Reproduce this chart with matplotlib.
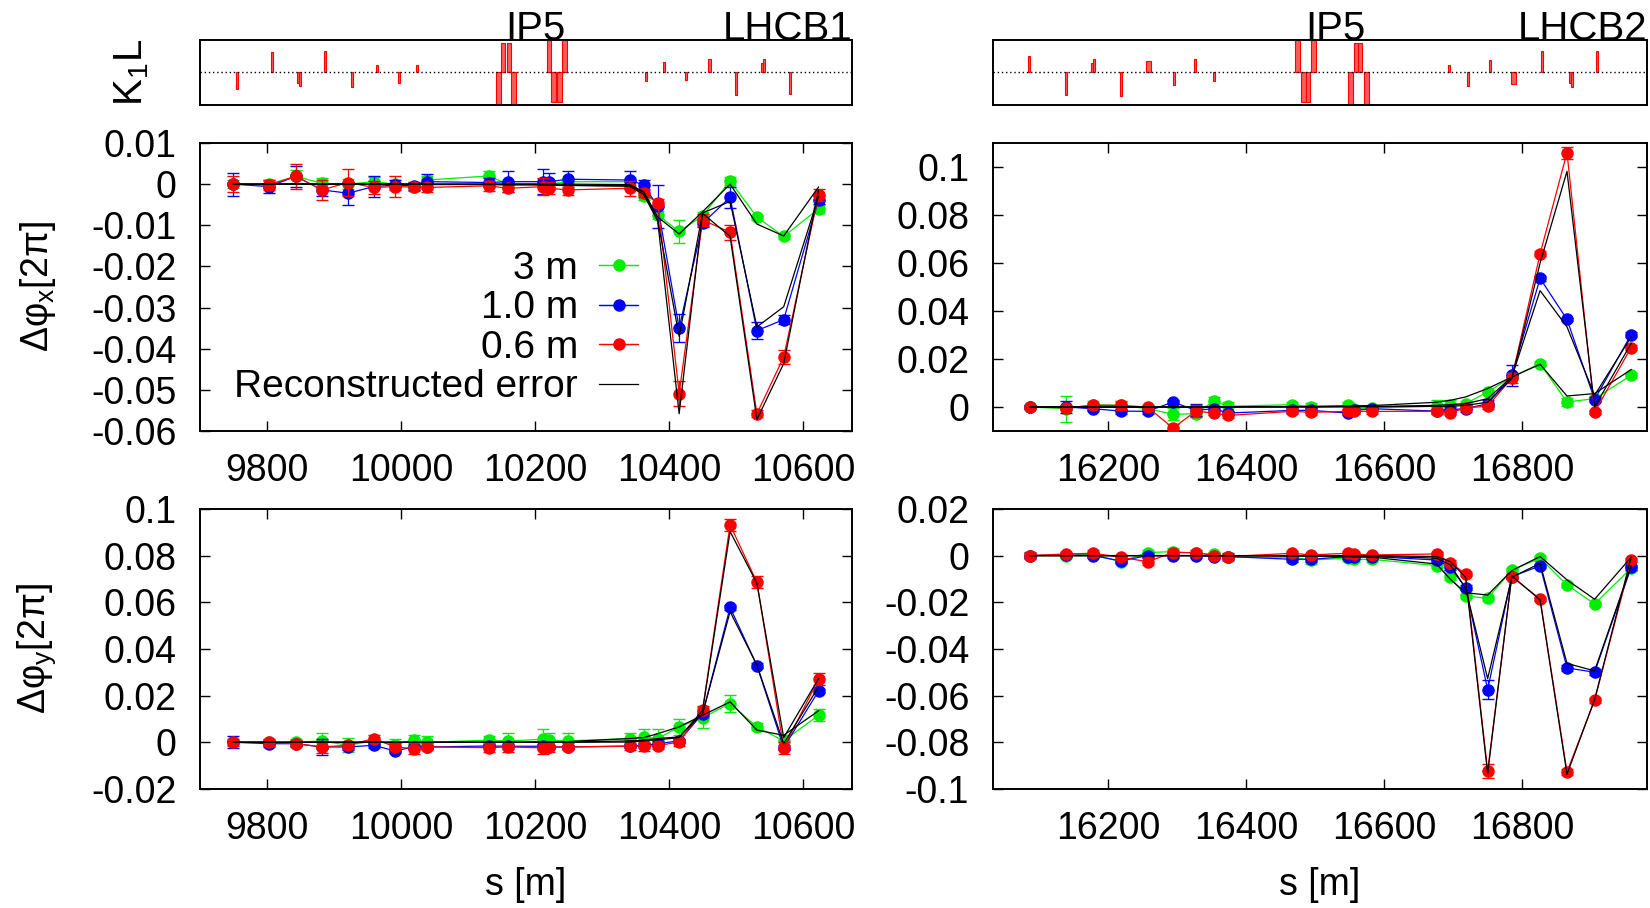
# Phase advance beating around IP5, LHC beam 1 / beam 2

import numpy as np
import matplotlib
matplotlib.use('Agg')
import matplotlib.pyplot as plt
from matplotlib.ticker import FuncFormatter, MultipleLocator

plt.rcParams['font.family'] = ['Liberation Sans', 'DejaVu Sans']
plt.rcParams['mathtext.fontset'] = 'custom'
plt.rcParams['mathtext.rm'] = 'Liberation Sans'
plt.rcParams['mathtext.it'] = 'Liberation Sans'
plt.rcParams['mathtext.default'] = 'regular'

# BPM positions [m]
s_b1 = [9750, 9803, 9843, 9882, 9921, 9959, 9991, 10019, 10039, 10131, 10159, 10212,
        10221, 10249, 10341, 10362, 10383, 10415, 10450, 10491, 10531, 10571, 10623]
s_b2 = [16086, 16139, 16178, 16218, 16257, 16294, 16327, 16353, 16374, 16467, 16494, 16547,
        16556, 16583, 16676, 16696, 16718, 16750, 16785, 16826, 16865, 16905, 16958]

# quadrupole strengths (normalised), positions and lengths
k1_s_b1 = [9755, 9807, 9846, 9849, 9887, 9927, 9964, 9997, 10024, 10145, 10152, 10161, 10168,
           10221, 10228, 10236, 10244, 10365, 10392, 10425, 10460, 10500, 10538, 10542, 10580]
k1_b1 = [-0.52, 0.63, -0.31, -0.42, 0.67, -0.45, 0.22, -0.33, 0.24, -1.3, 0.9, 0.9, -1.3,
         1.3, -0.9, -0.9, 1.3, -0.26, 0.31, -0.23, 0.4, -0.68, 0.28, 0.4, -0.65]
k1_len_b1 = [3, 3, 3, 3, 3, 4, 3, 3, 3, 7, 6, 6, 7, 7, 7, 7, 7, 3, 3, 3, 4, 3, 3, 3, 3]

k1_s_b2 = [16085, 16139, 16176, 16180, 16218, 16259, 16295, 16326, 16354, 16474, 16483, 16489,
           16498, 16551, 16559, 16565, 16574, 16694, 16721, 16753, 16788, 16829, 16869, 16872, 16909]
k1_b2 = [0.51, -0.7, 0.28, 0.4, -0.71, 0.35, -0.39, 0.4, -0.26, 1.3, -0.91, -0.91,
         1.3, -1.3, 0.9, 0.9, -1.3, 0.22, -0.41, 0.38, -0.34, 0.67, -0.31, -0.44, 0.67]
k1_len_b2 = [3, 3, 3, 3, 3, 7, 3, 3, 3, 7, 6, 6, 7, 7, 6, 6, 7, 3, 3, 3, 7, 3, 3, 3, 3]

ip5_b1 = 10200
ip5_b2 = 16530

# horizontal phase error, beam 1 [2pi]
b1x_3m = [0, 0, 0.0019, 0.0002, 0, 0.0006, 0, -0.0006, 0.001, 0.002, 0, 0.0002, 0, 0.0006,
          0.0006, -0.003, -0.0075, -0.0115, -0.0077, 0.0008, -0.008, -0.0127, -0.006]
b1x_1m = [0, -0.0006, 0.0019, -0.0014, -0.0022, -0.0006, -0.0002, -0.0004, 0.0006, 0.0004, 0.0006,
          0.0006, 0.0006, 0.0012, 0.001, -0.0002, -0.0054, -0.035, -0.0095, -0.0032, -0.0356, -0.0329, -0.0038]
b1x_06m = [0, -0.0002, 0.0019, -0.0014, 0.0004, -0.0008, -0.0006, -0.0007, -0.0008, -0.0004, -0.001,
           -0.0006, -0.001, -0.0014, -0.001, -0.0022, -0.0046, -0.0509, -0.0087, -0.0117, -0.0558, -0.042, -0.0026]
b1x_3m_err = [0.001, 0.0008, 0.0015, 0.0012, 0.0012, 0.0012, 0.001, 0.0008, 0.001, 0.0012, 0.001, 0.001,
              0.0008, 0.0008, 0.0008, 0.0008, 0.001, 0.0028, 0.001, 0.001, 0.0006, 0.0006, 0.001]
b1x_1m_err = [0.0028, 0.0015, 0.0025, 0.0015, 0.0028, 0.0025, 0.0012, 0.001, 0.0018, 0.001, 0.0025, 0.003,
              0.002, 0.002, 0.0022, 0.0012, 0.0052, 0.0034, 0.001, 0.0025, 0.002, 0.0012, 0.001]
b1x_06m_err = [0.002, 0.0012, 0.003, 0.0025, 0.0032, 0.0015, 0.0025, 0.001, 0.0012, 0.0012, 0.001, 0.002,
               0.0015, 0.0012, 0.0018, 0.001, 0.001, 0.003, 0.0015, 0.0018, 0.0008, 0.0016, 0.0015]
b1x_rec_3m = [0, 0, 0.0001, 0, 0, 0, 0, 0, 0, 0, 0, 0, 0, 0, -0.0001, -0.0018, -0.008, -0.0121,
              -0.0067, 0, -0.0097, -0.0126, -0.0007]
b1x_rec_1m = [0, 0, 0, 0, 0, 0, 0, 0, 0, 0, 0, -0.0001, -0.0002, -0.0003, -0.0004, -0.002, -0.0087,
              -0.037, -0.007, -0.0042, -0.0347, -0.0298, -0.003]
b1x_rec_06m = [0, 0, 0, 0, 0, 0, 0, 0, -0.0001, -0.0001, -0.0002, -0.0002, -0.0003, -0.0003, -0.0005,
               -0.0025, -0.009, -0.0558, -0.0071, -0.0127, -0.0572, -0.0436, -0.0014]

# horizontal phase error, beam 2
b2x_3m = [0, -0.0007, 0.001, 0.0007, -0.0007, -0.003, -0.0028, 0.0025, 0.0003, 0.001, 0, 0.0007,
          -0.001, -0.0003, 0.0003, 0.001, 0.0014, 0.0063, 0.0125, 0.0181, 0.0021, 0.0035, 0.0132]
b2x_1m = [0, 0, -0.0007, -0.0017, -0.0018, 0.0021, -0.0014, -0.0007, -0.0025, -0.0014, -0.0014, -0.0025,
          -0.0014, -0.0007, -0.0017, -0.0011, -0.0007, 0.0014, 0.0132, 0.0536, 0.0365, 0.0031, 0.0302]
b2x_06m = [0, -0.0003, 0.0007, 0.0007, 0, -0.0088, -0.0017, -0.0025, -0.0035, -0.0018, -0.0022, -0.0018,
           -0.0018, -0.0018, -0.0018, -0.0025, -0.0003, 0.0003, 0.0121, 0.0638, 0.106, -0.0021, 0.0248]
b2x_3m_err = [0.0008, 0.0055, 0.0015, 0.0012, 0.001, 0.0025, 0.001, 0.0015, 0.002, 0.0012, 0.0018, 0.0015,
              0.001, 0.001, 0.0025, 0.0018, 0.001, 0.001, 0.001, 0.0012, 0.0015, 0.001, 0.001]
b2x_1m_err = [0.0008, 0.0025, 0.001, 0.001, 0.001, 0.001, 0.0025, 0.001, 0.001, 0.001, 0.001, 0.001,
              0.001, 0.001, 0.001, 0.001, 0.0015, 0.0015, 0.0045, 0.001, 0.0008, 0.001, 0.0012]
b2x_06m_err = [0.0008, 0.001, 0.001, 0.0018, 0.001, 0.0018, 0.0025, 0.001, 0.001, 0.001, 0.001, 0.001,
               0.001, 0.001, 0.001, 0.001, 0.001, 0.001, 0.002, 0.001, 0.0025, 0.001, 0.001]
b2x_rec_3m = [0, 0, 0, 0, 0, 0, 0, 0, 0.0001, 0.0002, 0.0003, 0.0004, 0.0005, 0.0006, 0.002, 0.0028,
              0.0042, 0.0077, 0.0125, 0.0178, 0.0046, 0.0056, 0.0156]
b2x_rec_1m = [0, 0, 0, 0, 0, 0, 0, 0, 0, 0.0001, 0.0001, 0.0002, 0.0002, 0.0002, 0.0007, 0.001,
              0.0014, 0.0035, 0.0125, 0.0485, 0.0334, 0.0049, 0.0292]
b2x_rec_06m = [0, 0, 0, 0, 0, 0, 0, 0, 0, 0, 0, 0.0001, 0.0001, 0.0001, 0.0003, 0.0003, 0.0007,
               0.002, 0.0118, 0.06, 0.0982, 0, 0.0265]

# vertical phase error, beam 1
b1y_3m = [0, 0, 0, 0.0006, -0.0013, 0.0006, -0.001, 0.0011, 0, 0.0009, 0.0006, 0.0013, 0.0009, 0.0006,
          0.0016, 0.0023, 0.0016, 0.0066, 0.0106, 0.0166, 0.0066, 0.0006, 0.0116]
b1y_1m = [0, -0.0006, -0.0006, -0.002, -0.002, -0.0013, -0.0037, -0.002, -0.002, -0.0016, -0.0017, -0.0017,
          -0.002, -0.002, -0.0016, -0.0013, -0.0006, 0.0006, 0.0123, 0.0578, 0.0329, -0.0023, 0.022]
b1y_06m = [0, 0, -0.0006, -0.002, -0.0013, 0.0016, -0.002, -0.0027, -0.002, -0.0023, -0.002, -0.0024,
           -0.002, -0.002, -0.0017, -0.0017, -0.0014, 0.0001, 0.014, 0.0932, 0.0686, -0.0024, 0.0271]
b1y_3m_err = [0.001, 0.001, 0.0015, 0.0035, 0.003, 0.0015, 0.0025, 0.002, 0.0025, 0.002, 0.0035, 0.0045,
              0.003, 0.0035, 0.0025, 0.0035, 0.004, 0.0035, 0.0045, 0.0035, 0.0015, 0.0025, 0.0025]
b1y_1m_err = [0.0025, 0.0015, 0.001, 0.0035, 0.0015, 0.001, 0.001, 0.001, 0.001, 0.001, 0.001, 0.001,
              0.001, 0.001, 0.001, 0.001, 0.001, 0.001, 0.001, 0.001, 0.0012, 0.001, 0.001]
b1y_06m_err = [0.0015, 0.0015, 0.0015, 0.0025, 0.0015, 0.0015, 0.0015, 0.0025, 0.0015, 0.002, 0.002, 0.0025,
               0.002, 0.0015, 0.0015, 0.002, 0.0015, 0.0015, 0.0015, 0.0025, 0.0025, 0.0025, 0.0025]
b1y_rec_3m = [0, 0, 0, 0, 0, 0, 0, 0, 0, 0.0001, 0.0001, 0.0002, 0.0002, 0.0003, 0.0016, 0.002, 0.0037,
              0.0066, 0.0116, 0.0173, 0.0052, 0.003, 0.0135]
b1y_rec_1m = [0, 0, 0, 0, 0, 0, 0, 0, 0, 0, 0, 0, 0, 0.0001, 0.0006, 0.0009, 0.0016, 0.0023, 0.0123,
              0.056, 0.0331, -0.0006, 0.0238]
b1y_rec_06m = [0, 0, 0, 0, 0, 0, 0, 0, 0, 0, 0, 0, 0, 0, 0.0001, 0.0006, 0.0011, 0.002, 0.0137,
               0.0903, 0.0682, 0.002, 0.0273]

# vertical phase error, beam 2
b2y_3m = [0, 0, 0.0006, -0.0026, 0.0013, 0.0017, 0.001, 0.0007, -0.0007, -0.0007, -0.0019, -0.0011,
          -0.0016, -0.0016, -0.0043, -0.0093, -0.0173, -0.0183, -0.0062, -0.0011, -0.0126, -0.0207, -0.0054]
b2y_1m = [0, 0.0003, 0, -0.0023, 0, 0, 0, -0.0004, -0.0004, -0.0016, -0.0016, -0.0004, -0.0004, -0.0004,
          -0.0019, -0.005, -0.0137, -0.0574, -0.009, -0.0044, -0.0481, -0.05, -0.005]
b2y_06m = [0, 0.0007, 0.001, -0.0007, -0.0026, 0.0013, 0.0013, 0, -0.0004, 0.001, 0.0003, 0.001, 0.0006,
           0.0003, 0.0007, -0.003, -0.0079, -0.0923, -0.009, -0.0186, -0.0927, -0.062, -0.0019]
b2y_3m_err = [0.001, 0.001, 0.001, 0.001, 0.001, 0.0015, 0.001, 0.001, 0.0015, 0.001, 0.0015, 0.001,
              0.0012, 0.001, 0.001, 0.001, 0.001, 0.001, 0.001, 0.001, 0.001, 0.001, 0.001]
b2y_1m_err = [0.0012, 0.001, 0.001, 0.001, 0.001, 0.001, 0.001, 0.001, 0.0015, 0.001, 0.001, 0.001,
              0.001, 0.001, 0.001, 0.001, 0.001, 0.004, 0.001, 0.001, 0.0012, 0.0012, 0.001]
b2y_06m_err = [0.0015, 0.001, 0.0015, 0.001, 0.0015, 0.001, 0.0012, 0.001, 0.001, 0.001, 0.001, 0.001,
               0.001, 0.001, 0.001, 0.0012, 0.001, 0.003, 0.001, 0.001, 0.0012, 0.001, 0.001]
b2y_rec_3m = [0, 0, 0, 0, 0, 0, 0, 0, 0, -0.0002, -0.0003, -0.0005, -0.0006, -0.0007, -0.0036, -0.0102,
              -0.0159, -0.0169, -0.0064, -0.0004, -0.0104, -0.0187, -0.0007]
b2y_rec_1m = [0, 0, 0, 0, 0, 0, 0, 0, 0, -0.0001, -0.0001, -0.0002, -0.0002, -0.0002, -0.0011, -0.004,
              -0.014, -0.0527, -0.0093, -0.0033, -0.0462, -0.0494, -0.0044]
b2y_rec_06m = [0, 0, 0, 0, 0, 0, 0, 0, 0, 0, 0, 0, 0, 0, -0.0004, -0.0026, -0.0093, -0.0934, -0.0087,
               -0.019, -0.0937, -0.0617, -0.0007]

labels = ['3 m', '1.0 m', '0.6 m']
colors = ['#00ee00', '#0000ff', '#ff0000']

FS = 27
EB = dict(fmt='-o', lw=0.9, ms=8, elinewidth=0.9, capsize=4, capthick=1.0)


def fmt(v, pos):
    if abs(v) < 1e-12:
        v = 0
    return '%g' % round(v, 6)


def style(ax, xlim, ylim, ystep):
    ax.set_xlim(xlim)
    ax.set_ylim(ylim)
    ax.xaxis.set_major_locator(MultipleLocator(200))
    ax.yaxis.set_major_locator(MultipleLocator(ystep))
    ax.yaxis.set_major_formatter(FuncFormatter(fmt))
    ax.tick_params(direction='in', length=7, width=1, top=True, right=True, labelsize=FS)
    ax.tick_params(axis='x', pad=16)
    ax.tick_params(axis='y', pad=17)
    for sp in ax.spines.values():
        sp.set_linewidth(1.4)


def draw(ax, s, series, errs, recs):
    for i, (v, e) in enumerate(zip(series, errs)):
        ax.errorbar(s, v, yerr=e, color=colors[i], zorder=2 + i, **EB)
    for r in recs:
        ax.plot(s, r, color='black', lw=0.9, zorder=6)


def k1l(ax, s, k, l, xlim, name, ip5):
    ax.bar(s, k, width=l, color='#ff5a5a', edgecolor='#ff0000', linewidth=0.8)
    ax.axhline(0, color='black', ls=(0, (1, 2)), lw=1)
    ax.set_xlim(xlim)
    ax.set_ylim(-1, 1)
    ax.set_xticks([])
    ax.set_yticks([])
    for sp in ax.spines.values():
        sp.set_linewidth(1.4)
    ax.text(ip5, 1.0, 'IP5', transform=ax.get_xaxis_transform(), ha='center', va='baseline', fontsize=29)
    ax.text(1.0, 1.0, name, transform=ax.transAxes, ha='right', va='baseline', fontsize=29)


fig = plt.figure(figsize=(16.5, 9.08), dpi=100)

xl, xw = 0.1212, 0.3952
xr, xrw = 0.6018, 0.3964
xlim_b1 = (9700, 10673)
xlim_b2 = (16033, 16981)

ax_k1 = fig.add_axes([xl, 0.8844, xw, 0.0716])
ax_k2 = fig.add_axes([xr, 0.8844, xrw, 0.0716])
ax_1x = fig.add_axes([xl, 0.5253, xw, 0.3172])
ax_2x = fig.add_axes([xr, 0.5253, xrw, 0.3172])
ax_1y = fig.add_axes([xl, 0.1311, xw, 0.3084])
ax_2y = fig.add_axes([xr, 0.1311, xrw, 0.3084])

k1l(ax_k1, k1_s_b1, k1_b1, k1_len_b1, xlim_b1, 'LHCB1', ip5_b1)
k1l(ax_k2, k1_s_b2, k1_b2, k1_len_b2, xlim_b2, 'LHCB2', ip5_b2)
ax_k1.set_ylabel('K$_1$L', fontsize=29)
ax_k1.yaxis.set_label_coords(-0.075, 0.5)

draw(ax_1x, s_b1, [b1x_3m, b1x_1m, b1x_06m], [b1x_3m_err, b1x_1m_err, b1x_06m_err],
     [b1x_rec_3m, b1x_rec_1m, b1x_rec_06m])
draw(ax_2x, s_b2, [b2x_3m, b2x_1m, b2x_06m], [b2x_3m_err, b2x_1m_err, b2x_06m_err],
     [b2x_rec_3m, b2x_rec_1m, b2x_rec_06m])
draw(ax_1y, s_b1, [b1y_3m, b1y_1m, b1y_06m], [b1y_3m_err, b1y_1m_err, b1y_06m_err],
     [b1y_rec_3m, b1y_rec_1m, b1y_rec_06m])
draw(ax_2y, s_b2, [b2y_3m, b2y_1m, b2y_06m], [b2y_3m_err, b2y_1m_err, b2y_06m_err],
     [b2y_rec_3m, b2y_rec_1m, b2y_rec_06m])

style(ax_1x, xlim_b1, (-0.06, 0.01), 0.01)
style(ax_2x, xlim_b2, (-0.01, 0.11), 0.02)
style(ax_1y, xlim_b1, (-0.02, 0.1), 0.02)
style(ax_2y, xlim_b2, (-0.1, 0.02), 0.02)

ax_1x.set_ylabel('Δφ$_x$[2π]', fontsize=FS)
ax_1y.set_ylabel('Δφ$_y$[2π]', fontsize=FS)
ax_1x.yaxis.set_label_coords(-0.218, 0.5)
ax_1y.yaxis.set_label_coords(-0.218, 0.5)

for ax in (ax_1y, ax_2y):
    ax.set_xlabel('s [m]', fontsize=FS)
    ax.xaxis.set_label_coords(0.5, -0.28)

# legend with horizontal error bar samples, text on the left
handles = []
for c in colors:
    h = ax_1x.errorbar([], [], xerr=[], color=c, **EB)
    handles.append(h)
rec_handle, = ax_1x.plot([], [], color='black', lw=0.9)
handles.append(rec_handle)
ax_1x.legend(handles, labels + ['Reconstructed error'], loc='center right',
             bbox_to_anchor=(0.672, 0.357), frameon=False, markerfirst=False,
             fontsize=28, handlelength=1.0, handletextpad=0.55, labelspacing=0.09,
             borderpad=0, borderaxespad=0)

fig.savefig('out.png', dpi=100)
